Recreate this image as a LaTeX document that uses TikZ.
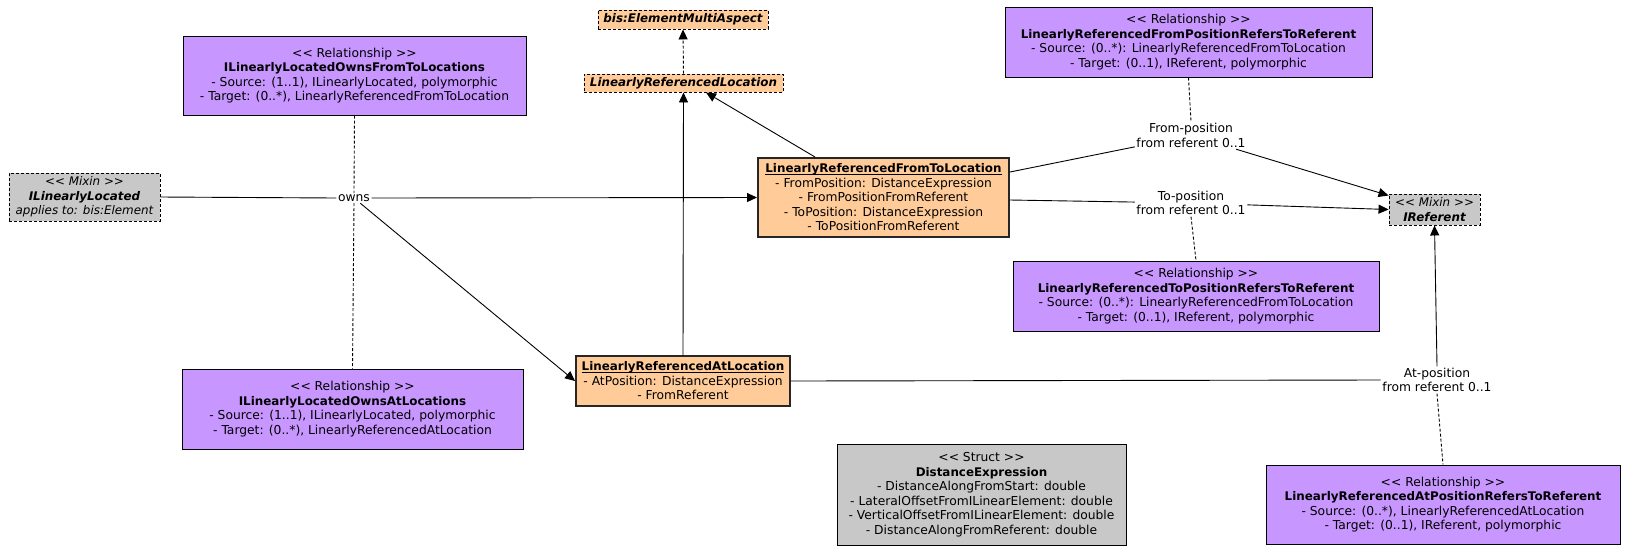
\documentclass[tikz,border=0pt]{standalone}
\usepackage{fontspec}
\setmainfont{DejaVu Sans}
\usetikzlibrary{arrows.meta}
\definecolor{relfill}{RGB}{200,150,255}
\definecolor{clsfill}{RGB}{255,204,153}
\definecolor{grayfill}{RGB}{200,200,200}
\newcommand\stereo[1]{<\kern0pt< #1 >\kern0pt>}
\newcommand\nm[1]{{\fontsize{11.9}{14.5}\selectfont\bfseries #1}}
\newcommand\nmi[1]{{\fontsize{11.9}{14.5}\selectfont\bfseries\itshape #1}}
\newcommand\itx[1]{{\fontsize{11.9}{14.5}\selectfont\itshape #1}}
\newcommand\ul[1]{\underline{\smash{\nm{#1}}}\vphantom{Ly}}
\begin{document}
\begin{tikzpicture}[x=1pt,y=-1pt,
  every node/.style={font=\fontsize{12.3}{14.5}\selectfont, align=center, inner sep=0pt},
  relbox/.style={draw=black, fill=relfill, line width=1pt},
  clsbox/.style={draw=black!85, fill=clsfill, line width=2pt},
  absbox/.style={draw=black, fill=clsfill, line width=0.9pt, dash pattern=on 3pt off 2pt},
  mixbox/.style={draw=black, fill=grayfill, line width=0.9pt, dash pattern=on 3pt off 2pt},
  structbox/.style={draw=black, fill=grayfill, line width=1pt},
  lbl/.style={inner sep=1.5pt},
  conn/.style={draw=black, line width=0.9pt},
  arr/.style={-{Triangle[length=10pt,width=9pt]}},
  dsh/.style={dash pattern=on 3pt off 2pt}
]
\useasboundingbox (0,0) rectangle (1625,558);

% nodes
\node[absbox, minimum width=170pt, minimum height=19pt] (bis) at (683,19.5)
  {\nmi{bis:ElementMultiAspect}};
\node[absbox, minimum width=199pt, minimum height=18pt] (lrl) at (683.5,83)
  {\nmi{LinearlyReferencedLocation}};
\node[relbox, minimum width=343pt, minimum height=79pt] (ownsFT) at (354.5,75.5)
  {\stereo{Relationship}\\ \nm{ILinearlyLocatedOwnsFromToLocations}\\
   - Source: (1..1), ILinearlyLocated, polymorphic\\
   - Target: (0..*), LinearlyReferencedFromToLocation};
\node[mixbox, minimum width=151pt, minimum height=48pt] (ill) at (84.5,197)
  {\itx{\stereo{Mixin}}\\ \nmi{ILinearlyLocated}\\ \itx{applies to: bis:Element}};
\node[clsbox, minimum width=251pt, minimum height=79pt] (ft) at (883.5,197.5)
  {\ul{LinearlyReferencedFromToLocation}\\
   - FromPosition: DistanceExpression\\ - FromPositionFromReferent\\
   - ToPosition: DistanceExpression\\ - ToPositionFromReferent};
\node[relbox, minimum width=367pt, minimum height=70pt] (fromRel) at (1188.5,42)
  {\stereo{Relationship}\\ \nm{LinearlyReferencedFromPositionRefersToReferent}\\
   - Source: (0..*): LinearlyReferencedFromToLocation\\
   - Target: (0..1), IReferent, polymorphic};
\node[mixbox, minimum width=91pt, minimum height=31pt] (iref) at (1434.5,209.5)
  {\itx{\stereo{Mixin}}\\ \nmi{IReferent}};
\node[relbox, minimum width=366pt, minimum height=70pt] (toRel) at (1196,296)
  {\stereo{Relationship}\\ \nm{LinearlyReferencedToPositionRefersToReferent}\\
   - Source: (0..*): LinearlyReferencedFromToLocation\\
   - Target: (0..1), IReferent, polymorphic};
\node[clsbox, minimum width=214pt, minimum height=50pt] (at) at (683,381)
  {\ul{LinearlyReferencedAtLocation}\\
   - AtPosition: DistanceExpression\\ - FromReferent};
\node[relbox, minimum width=341pt, minimum height=80pt] (ownsAt) at (352.5,409)
  {\stereo{Relationship}\\ \nm{ILinearlyLocatedOwnsAtLocations}\\
   - Source: (1..1), ILinearlyLocated, polymorphic\\
   - Target: (0..*), LinearlyReferencedAtLocation};
\node[structbox, minimum width=289pt, minimum height=101pt] (dist) at (981.5,494.5)
  {\stereo{Struct}\\ \nm{DistanceExpression}\\
   - DistanceAlongFromStart: double\\
   - LateralOffsetFromILinearElement: double\\
   - VerticalOffsetFromILinearElement: double\\
   - DistanceAlongFromReferent: double};
\node[relbox, minimum width=354pt, minimum height=79pt] (atRel) at (1443,504.5)
  {\stereo{Relationship}\\ \nm{LinearlyReferencedAtPositionRefersToReferent}\\
   - Source: (0..*), LinearlyReferencedAtLocation\\
   - Target: (0..1), IReferent, polymorphic};

% labels
\node[lbl] (owns) at (354,198) {owns};
\node[lbl] (fromLbl) at (1191,135.5) {From-position\\ from referent 0..1};
\node[lbl] (toLbl) at (1191,203) {To-position\\ from referent 0..1};
\node[lbl] (atLbl) at (1437,380) {At-position\\ from referent 0..1};

% connectors
\draw[conn] (ill.east) -- (owns.west);
\draw[conn, arr] (owns.east) -- (ft.west);
\draw[conn, arr] (owns) -- (at.west);
\draw[conn, dsh] (ownsFT.south) -- (owns.north);
\draw[conn, dsh] (owns.south) -- (ownsAt.north);
\draw[conn, arr] (at.north) -- (lrl.south);
\draw[conn, arr] ([xshift=-68.5pt]ft.north) -- ([xshift=22.5pt]lrl.south);
\draw[conn, dsh, arr] (lrl.north) -- (bis.south);
\draw[conn] ([yshift=25.5pt]ft.east) -- (fromLbl);
\draw[conn, arr] (fromLbl) -- ([yshift=14pt]iref.west);
\draw[conn] ([yshift=-2.5pt]ft.east) -- (toLbl);
\draw[conn, arr] (toLbl) -- (iref.west);
\draw[conn, dsh] (fromRel.south) -- (fromLbl.north);
\draw[conn, dsh] (toLbl.south) -- (toRel.north);
\draw[conn] (at.east) -- (atLbl.west);
\draw[conn, arr] (atLbl.north) -- (iref.south);
\draw[conn, dsh] (atLbl.south) -- (atRel.north);
\end{tikzpicture}
\end{document}
